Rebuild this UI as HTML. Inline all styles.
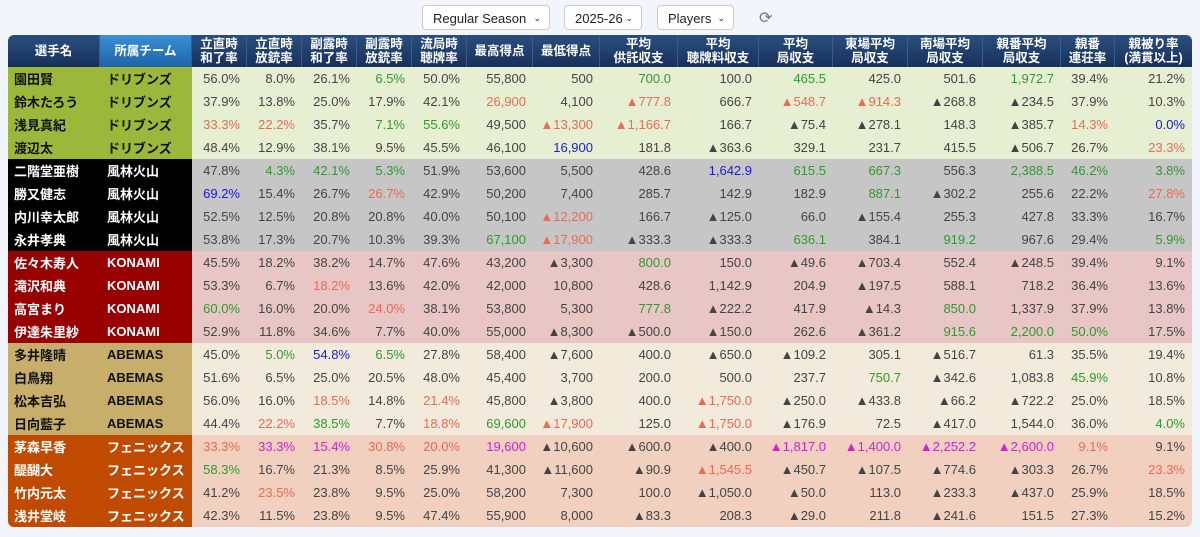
<!DOCTYPE html>
<html><head><meta charset="utf-8"><style>
body{margin:0;background:#f2f5fb;width:1200px;height:537px;overflow:hidden;font-family:"Liberation Sans","Noto Sans CJK JP",sans-serif}
.top{position:absolute;top:5px;height:25px;border:1px solid #ccc;border-radius:4px;background:#fff;font-size:13px;line-height:25px;box-sizing:border-box;padding-left:10px;color:#222}
.top span{position:absolute;right:8px;top:0;font-size:9px}
table{position:absolute;left:8px;top:35px;border-collapse:separate;border-spacing:0;table-layout:fixed;width:1184px;border-radius:6px;overflow:hidden}
th{height:32px;padding:0;color:#fff;font-size:12.5px;line-height:14px;font-weight:bold;background:linear-gradient(#2b4f80,#17305a);border-right:1px solid #3a5a88}
th.t{background:linear-gradient(#3a8fd6,#1d64a8)}
td{height:23px;padding:0 7px 0 0;text-align:right;font-size:13px;color:#444;white-space:nowrap;overflow:hidden}
td.n,td.m{text-align:left;font-weight:bold;font-size:13px;padding-left:6px;color:#111}
td.m{padding-left:7px}
.r{color:#ec6a55}.g{color:#2e9a2e}.b{color:#1a1ad8}.p{color:#d61ed6}
</style></head><body>
<div class="top" style="left:422px;width:128px">Regular Season<span>&#8964;</span></div>
<div class="top" style="left:564px;width:78px">2025-26<span>&#8964;</span></div>
<div class="top" style="left:657px;width:77px">Players<span>&#8964;</span></div>
<div style="position:absolute;left:759px;top:8px;font-size:16px;color:#777">&#10227;</div>
<table id="t"><colgroup>
<col style="width:92px"><col style="width:92px"><col style="width:55px"><col style="width:55px"><col style="width:55px"><col style="width:55px"><col style="width:55px"><col style="width:66px"><col style="width:67px"><col style="width:78px"><col style="width:81px"><col style="width:74px"><col style="width:75px"><col style="width:75px"><col style="width:78px"><col style="width:54px"><col style="width:77px"></colgroup>
<tr><th>選手名</th><th class="t">所属チーム</th><th>立直時<br>和了率</th><th>立直時<br>放銃率</th><th>副露時<br>和了率</th><th>副露時<br>放銃率</th><th>流局時<br>聴牌率</th><th>最高得点</th><th>最低得点</th><th>平均<br>供託収支</th><th>平均<br>聴牌料収支</th><th>平均<br>局収支</th><th>東場平均<br>局収支</th><th>南場平均<br>局収支</th><th>親番平均<br>局収支</th><th>親番<br>連荘率</th><th style="border-right:0">親被り率<br>(満貫以上)</th></tr>
</table>
<script>
var teams={d:["ドリブンズ","#9bb83a","#111","#e7efd3"],f:["風林火山","#000","#fff","#c6c6c6"],k:["KONAMI","#980000","#fff","#e9c6c6"],a:["ABEMAS","#c7ae6b","#111","#f2ebdc"],p:["フェニックス","#c04b00","#fff","#f1d0c0"]};
var rows=[
["d","園田賢","56.0%|8.0%|26.1%|g6.5%|50.0%|55,800|500|g700.0|100.0|g465.5|425.0|501.6|g1,972.7|39.4%|21.2%"],
["d","鈴木たろう","37.9%|13.8%|25.0%|17.9%|42.1%|r26,900|4,100|r▲777.8|666.7|r▲548.7|r▲914.3|▲268.8|▲234.5|37.9%|10.3%"],
["d","浅見真紀","r33.3%|r22.2%|35.7%|g7.1%|g55.6%|49,500|r▲13,300|r▲1,166.7|166.7|▲75.4|▲278.1|148.3|▲385.7|r14.3%|b0.0%"],
["d","渡辺太","48.4%|12.9%|38.1%|9.5%|45.5%|46,100|b16,900|181.8|▲363.6|329.1|231.7|415.5|▲506.7|26.7%|r23.3%"],
["f","二階堂亜樹","47.8%|g4.3%|g42.1%|g5.3%|51.9%|53,600|5,500|428.6|b1,642.9|g615.5|g667.3|556.3|g2,388.5|g46.2%|g3.8%"],
["f","勝又健志","b69.2%|15.4%|26.7%|r26.7%|42.9%|50,200|7,400|285.7|142.9|182.9|g887.1|▲302.2|255.6|22.2%|r27.8%"],
["f","内川幸太郎","52.5%|12.5%|20.8%|20.8%|40.0%|50,100|r▲12,200|166.7|▲125.0|66.0|▲155.4|255.3|427.8|33.3%|16.7%"],
["f","永井孝典","53.8%|17.3%|20.7%|10.3%|39.3%|g67,100|r▲17,900|▲333.3|▲333.3|g636.1|384.1|g919.2|967.6|29.4%|g5.9%"],
["k","佐々木寿人","45.5%|18.2%|38.2%|14.7%|47.6%|43,200|▲3,300|g800.0|150.0|▲49.6|▲703.4|552.4|▲248.5|39.4%|9.1%"],
["k","滝沢和典","53.3%|6.7%|r18.2%|13.6%|42.0%|42,000|10,800|428.6|1,142.9|204.9|▲197.5|588.1|718.2|36.4%|13.6%"],
["k","高宮まり","g60.0%|16.0%|20.0%|r24.0%|38.1%|53,800|5,300|g777.8|▲222.2|417.9|▲14.3|g850.0|1,337.9|37.9%|13.8%"],
["k","伊達朱里紗","52.9%|11.8%|34.6%|7.7%|40.0%|55,000|▲8,300|▲500.0|▲150.0|262.6|▲361.2|g915.6|g2,200.0|g50.0%|17.5%"],
["a","多井隆晴","45.0%|g5.0%|b54.8%|g6.5%|27.8%|58,400|▲7,600|400.0|▲650.0|▲109.2|305.1|▲516.7|61.3|35.5%|19.4%"],
["a","白鳥翔","51.6%|6.5%|25.0%|20.5%|48.0%|45,400|3,700|200.0|500.0|237.7|g750.7|▲342.6|1,083.8|g45.9%|10.8%"],
["a","松本吉弘","56.0%|16.0%|r18.5%|14.8%|r21.4%|45,800|▲3,800|400.0|r▲1,750.0|▲250.0|▲433.8|▲66.2|▲722.2|25.0%|18.5%"],
["a","日向藍子","44.4%|r22.2%|g38.5%|7.7%|r18.8%|g69,600|r▲17,900|125.0|r▲1,750.0|▲176.9|72.5|▲417.0|1,544.0|36.0%|g4.0%"],
["p","茅森早香","r33.3%|p33.3%|p15.4%|r30.8%|r20.0%|p19,600|▲10,600|▲600.0|▲400.0|p▲1,817.0|p▲1,400.0|p▲2,252.2|p▲2,600.0|r9.1%|9.1%"],
["p","醍醐大","g58.3%|16.7%|21.3%|8.5%|25.9%|41,300|▲11,600|▲90.9|r▲1,545.5|▲450.7|▲107.5|▲774.6|▲303.3|26.7%|r23.3%"],
["p","竹内元太","41.2%|r23.5%|23.8%|9.5%|25.0%|58,200|7,300|100.0|▲1,050.0|▲50.0|113.0|▲233.3|▲437.0|25.9%|18.5%"],
["p","浅井堂岐","42.3%|11.5%|23.8%|9.5%|47.4%|55,900|8,000|▲83.3|208.3|▲29.0|211.8|▲241.6|151.5|27.3%|15.2%"]];
var h="";
rows.forEach(function(r){var t=teams[r[0]];
h+='<tr><td class="n" style="background:'+t[1]+';color:'+t[2]+'">'+r[1]+'</td><td class="m" style="background:'+t[1]+';color:'+t[2]+'">'+t[0]+'</td>';
r[2].split("|").forEach(function(v){var c="";if("rgbp".indexOf(v[0])>=0){c=v[0];v=v.slice(1);}
h+='<td class="'+c+'" style="background:'+t[3]+'">'+v+'</td>';});h+='</tr>';});
document.getElementById("t").insertAdjacentHTML("beforeend",h);
</script>
</body></html>
